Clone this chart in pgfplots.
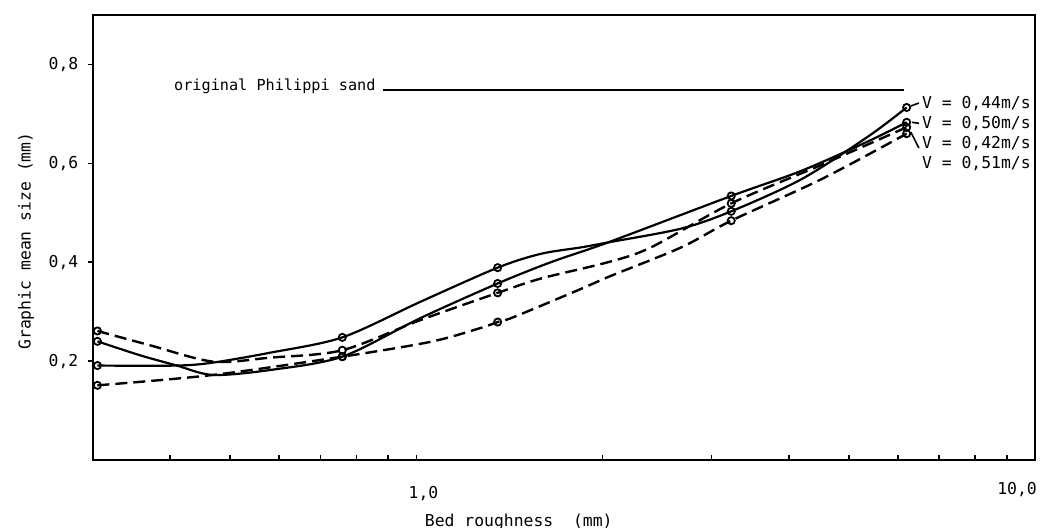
\documentclass[border=0pt]{standalone}
\usepackage{fontspec}
\setmainfont{DejaVu Sans Mono}
\usepackage{pgfplots}
\pgfplotsset{compat=1.18}
\begin{document}
\begin{tikzpicture}
\path[use as bounding box] (-46.5pt,-34pt) rectangle (483.5pt,230pt);
\begin{axis}[
  scale only axis, width=471pt, height=222.5pt,
  xmode=log, xmin=0.3, xmax=10, ymin=0, ymax=0.9,
  clip=false,
  axis line style={line width=1.4pt},
  tick style={line width=0.8pt, black},
  tick align=inside,
  xtick pos=bottom, ytick pos=left,
  xtick={1}, xticklabels={1{,}0},
  extra x ticks={10}, extra x tick labels={10{,}0},
  extra x tick style={xticklabel style={xshift=-12.5pt, yshift=2pt}},
  minor xtick={0.4,0.5,0.6,0.7,0.8,0.9,2,3,4,5,6,7,8,9},
  ytick={0.2,0.4,0.6,0.8}, yticklabels={0{,}2,0{,}4,0{,}6,0{,}8},
  ytick style={xshift=-2.5pt},
  major tick length=2.5pt, minor tick length=2.5pt,
  /pgf/number format/assume math mode=true,
  every tick label/.append style={font=\fontsize{8.2}{9}\selectfont},
  xticklabel style={anchor=center, yshift=-17pt, xshift=3.5pt},
  yticklabel style={xshift=-3.8pt},
]
% curves
\addplot[black, line width=1.1pt, smooth] coordinates {
 (0.305,0.191) (0.41,0.191) (0.469,0.197) (0.58,0.217) (0.759,0.248)
 (1.015,0.32) (1.353,0.389) (1.589,0.417) (1.845,0.430) (2.04,0.44)
 (2.679,0.468) (3.228,0.503) (4.194,0.568) (5.383,0.655) (6.202,0.713)};
\addplot[black, line width=1.1pt, smooth] coordinates {
 (0.305,0.240) (0.357,0.212) (0.41,0.191) (0.469,0.172) (0.58,0.182)
 (0.759,0.209) (1.015,0.287) (1.353,0.357) (1.649,0.40) (2.04,0.44)
 (3.228,0.534) (4.194,0.585) (5.383,0.645) (6.202,0.683)};
\addplot[black, line width=1.2pt, dash pattern=on 6pt off 3pt, smooth] coordinates {
 (0.305,0.261) (0.371,0.232) (0.469,0.199) (0.58,0.207) (0.759,0.222)
 (1.015,0.283) (1.353,0.338) (1.589,0.367) (2.04,0.40) (2.394,0.43)
 (3.228,0.519) (4.517,0.597) (6.202,0.673)};
\addplot[black, line width=1.2pt, dash pattern=on 6pt off 3pt, smooth] coordinates {
 (0.305,0.151) (0.469,0.172) (0.759,0.209) (1.054,0.239) (1.27,0.267)
 (1.353,0.279) (1.436,0.289) (1.845,0.346) (2.04,0.37) (2.679,0.43)
 (3.228,0.484) (4.517,0.568) (6.202,0.660)};
% measured points
\addplot[only marks, mark=o, mark size=1.8pt, mark options={line width=0.9pt, fill=white, solid}] coordinates {
 (0.305,0.191) (0.759,0.248) (1.353,0.389) (3.228,0.503) (6.202,0.713)};
\addplot[only marks, mark=o, mark size=1.8pt, mark options={line width=0.9pt, fill=white, solid}] coordinates {
 (0.305,0.240) (0.759,0.209) (1.353,0.357) (3.228,0.534) (6.202,0.683)};
\addplot[only marks, mark=o, mark size=1.8pt, mark options={line width=0.9pt, fill=white, solid}] coordinates {
 (0.305,0.261) (0.759,0.222) (1.353,0.338) (3.228,0.519) (6.202,0.673)};
\addplot[only marks, mark=o, mark size=1.8pt, mark options={line width=0.9pt, fill=white, solid}] coordinates {
 (0.305,0.151) (0.759,0.209) (1.353,0.279) (3.228,0.484) (6.202,0.660)};
% original sand line
\draw[line width=1pt] (axis cs:0.884,0.749) -- (axis cs:6.13,0.749);
\node[anchor=east, inner sep=0pt, font=\fontsize{7.6}{9}\selectfont] at (axis cs:0.860,0.756) {original Philippi sand};
% labels
\draw[line width=0.8pt] (axis cs:6.30,0.716) -- (axis cs:6.49,0.722);
\draw[line width=0.8pt] (axis cs:6.33,0.683) -- (axis cs:6.49,0.681);
\draw[line width=0.8pt] (axis cs:6.30,0.663) -- (axis cs:6.49,0.631);
\node[anchor=west, inner sep=0pt, font=\fontsize{8.2}{9}\selectfont] at (axis cs:6.56,0.721) {V = 0,44m/s};
\node[anchor=west, inner sep=0pt, font=\fontsize{8.2}{9}\selectfont] at (axis cs:6.56,0.680) {V = 0,50m/s};
\node[anchor=west, inner sep=0pt, font=\fontsize{8.2}{9}\selectfont] at (axis cs:6.56,0.640) {V = 0,42m/s};
\node[anchor=west, inner sep=0pt, font=\fontsize{8.2}{9}\selectfont] at (axis cs:6.56,0.600) {V = 0,51m/s};
\node[rotate=90, font=\fontsize{8.2}{9}\selectfont] at (axis description cs:-0.0711,0.492) {Graphic mean size (mm)};
\node[font=\fontsize{8.2}{9}\selectfont] at (axis description cs:0.452,-0.139) {Bed roughness~~(mm)};
\end{axis}
\end{tikzpicture}
\end{document}
